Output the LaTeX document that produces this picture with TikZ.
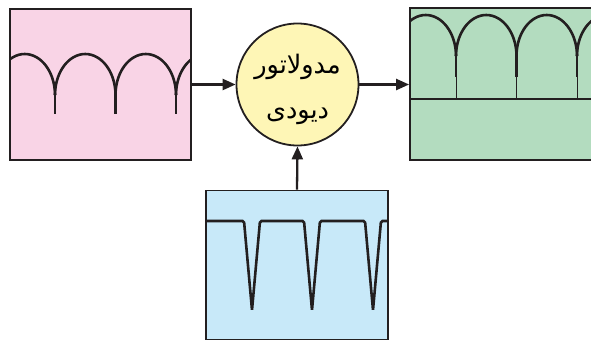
\documentclass[tikz,border=0pt]{standalone}
\usepackage{fontspec}
\usepackage{xcolor}
\usetikzlibrary{arrows.meta}
\newfontfamily\arabicfont[Script=Arabic]{DejaVu Sans}
\TeXXeTstate=1

\definecolor{pinkbg}{HTML}{F9D4E6}
\definecolor{yellowbg}{HTML}{FEF6B6}
\definecolor{greenbg}{HTML}{B3DCBF}
\definecolor{bluebg}{HTML}{C8E9F9}
\definecolor{inkline}{HTML}{231F20}

\tikzset{
    box/.style={draw=inkline, line width=1.8pt, rectangle, inner sep=0pt},
    wave/.style={draw=inkline, line width=2.6pt},
    feed/.style={draw=inkline, line width=2.3pt, -{Triangle[length=13pt,width=11pt]}}
}

\begin{document}
\begin{tikzpicture}[x=1pt, y=-1pt]

    \clip (0,0) rectangle (591,341);

    % Draw the blocks
    \node[box, fill=pinkbg, minimum width=181pt, minimum height=151pt] (envelope) at (100.5,84.5) {};
    \node[box, fill=greenbg, minimum width=200pt, minimum height=152pt] (output) at (510,84) {};
    \node[box, fill=bluebg, minimum width=182pt, minimum height=149pt] (pulses) at (297,265) {};
    \node[circle, draw=inkline, line width=1.8pt, fill=yellowbg, minimum size=122pt, inner sep=0pt] (mixer) at (297.5,84.5) {};
    \node[align=center, font=\arabicfont\fontsize{25.5}{45}\selectfont] (mixerlabel) at ([yshift=-5pt]mixer.center)
          {\beginR مدولاتور\endR\\\beginR دیودی\endR};

    % Connectors
    \draw[feed] (envelope.east |- mixer.west) -- (mixer.west);
    \draw[feed] (mixer.east) -- (output.west |- mixer.east);
    \draw[feed] (pulses.north) -- (mixer.south);

    % Rectified wave in the pink block
    \begin{scope}
    \clip (envelope.south west) rectangle (envelope.north east);
    \foreach \c in {-5.5,55,115.5,176} {
        \draw[wave] (\c,95) arc[start angle=180, end angle=360, x radius=30.25, y radius=41];
    }
    \foreach \c in {55,115.5,176} {
        \draw[wave] (\c,94) -- (\c,114);
    }
    \end{scope}

    % Output wave with its base line
    \begin{scope}
    \clip (output.south west) rectangle (output.north east);
    \draw[draw=inkline, line width=1.8pt] (output.west |- 0,99) -- (output.east |- 0,99);
    \foreach \c in {395.5,456,516.5,577} {
        \draw[wave] (\c,56) arc[start angle=180, end angle=360, x radius=30.25, y radius=41];
    }
    \foreach \c in {456,516.5,577} {
        \draw[wave] (\c,55) -- (\c,77);
        \draw[draw=inkline, line width=0.9pt] (\c,77) -- (\c,99);
    }
    \end{scope}

    % Pulse train in the blue block
    \draw[wave, rounded corners=1.5pt] (pulses.west |- 0,221) -- (244,221) -- (252,310) -- (260,221)
        -- (304,221) -- (312,310) -- (320,221) -- (365,221) -- (373,310) -- (381,221)
        -- (pulses.east |- 0,221);

\end{tikzpicture}
\end{document}
